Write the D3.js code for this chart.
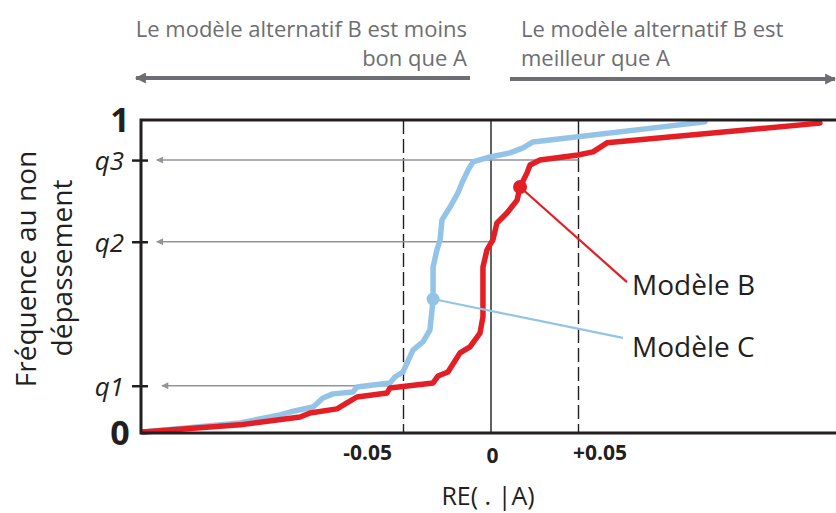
<!DOCTYPE html>
<html><head><meta charset="utf-8">
<script src="https://cdn.jsdelivr.net/npm/d3@7"></script>
<style>body{margin:0;background:#fff}svg{display:block}</style>
</head><body><svg id="c" width="836" height="513"></svg>
<script>
// ---- data ----
const seriesNames = ["Modèle B", "Modèle C"];
const modelBx = [-0.199,-0.1434,-0.1091,-0.1034,-0.0880,-0.0823,-0.0766,-0.0594,-0.0577,-0.0331,-0.0303,-0.0246,-0.0177,-0.0120,-0.0063,-0.0046,-0.0046,-0.0023,0.0011,0.0034,0.0091,0.0149,0.0166,0.0206,0.0223,0.0280,0.0497,0.0583,0.0663,0.1880];
const modelBy = [0.003,0.026,0.051,0.064,0.077,0.096,0.115,0.128,0.144,0.160,0.182,0.195,0.256,0.275,0.319,0.371,0.530,0.585,0.617,0.671,0.703,0.744,0.786,0.831,0.856,0.872,0.888,0.898,0.927,0.990];
const modelCx = [-0.199,-0.1434,-0.1206,-0.1149,-0.1017,-0.0960,-0.0903,-0.0789,-0.0766,-0.0577,-0.0549,-0.0503,-0.0446,-0.0389,-0.0349,-0.0331,-0.0331,-0.0309,-0.0291,-0.0280,-0.0234,-0.0189,-0.0166,-0.0131,-0.0103,-0.0006,0.0109,0.0183,0.0240,0.0337,0.1223];
const modelCy = [0.003,0.032,0.058,0.067,0.083,0.112,0.125,0.131,0.147,0.160,0.179,0.195,0.265,0.291,0.329,0.425,0.530,0.585,0.617,0.681,0.722,0.767,0.799,0.840,0.866,0.882,0.895,0.911,0.930,0.936,0.994];
const markerX = [0.0166, -0.0331];
const markerY = [0.786, 0.428];
const quantileValues = [0.151, 0.611, 0.872];
const quantileLabels = ["q1", "q2", "q3"];
const arrowStartValues = [-0.05, 0, 0.05];
const yEndValues = [0, 1];
const yEndLabels = ["0", "1"];
const xTickValues = [-0.05, 0, 0.05];
const xTickLabels = ["-0.05", "0", "+0.05"];

// ---- layout ----
const svg = d3.select("#c");
const x = d3.scaleLinear().domain([-0.2, 0.2]).range([141, 841]);
const y = d3.scaleLinear().domain([0, 1]).range([433, 120]);
const dark = "#231f20", red = "#e31e24", blue = "#93c4e8", gray = "#939598", topGray = "#6d6e71";
const font = "'Open Sans', sans-serif";

const defs = svg.append("defs");
defs.append("marker").attr("id","hgray").attr("viewBox","0 0 10 10").attr("refX",9).attr("refY",5)
  .attr("markerWidth",12).attr("markerHeight",7).attr("markerUnits","userSpaceOnUse").attr("orient","auto")
  .append("path").attr("d","M10,5 L0,0 L0,10 Z").attr("fill",gray);
defs.append("marker").attr("id","htop").attr("viewBox","0 0 10 10").attr("refX",9).attr("refY",5)
  .attr("markerWidth",14).attr("markerHeight",11).attr("markerUnits","userSpaceOnUse").attr("orient","auto")
  .append("path").attr("d","M10,5 L0,0 L0,10 Z").attr("fill",topGray);

// top annotations
const tTop = svg.append("g").attr("font-family", font).attr("font-size", 22).attr("fill", topGray);
tTop.append("text").attr("x",467).attr("y",37).attr("text-anchor","end").text("Le modèle alternatif B est moins");
tTop.append("text").attr("x",467).attr("y",66).attr("text-anchor","end").text("bon que A");
tTop.append("text").attr("x",521).attr("y",37).text("Le modèle alternatif B est");
tTop.append("text").attr("x",521).attr("y",66).text("meilleur que A");
svg.append("line").attr("x1",470).attr("x2",136).attr("y1",78).attr("y2",78)
  .attr("stroke",topGray).attr("stroke-width",4).attr("marker-end","url(#htop)");
svg.append("line").attr("x1",510).attr("x2",835).attr("y1",79).attr("y2",79)
  .attr("stroke",topGray).attr("stroke-width",4).attr("marker-end","url(#htop)");

// reference vertical lines
svg.append("g").selectAll("line").data(xTickValues).join("line")
  .attr("x1", d => x(d)).attr("x2", d => x(d)).attr("y1", y(1)).attr("y2", y(0))
  .attr("stroke", dark).attr("stroke-width", 1.4)
  .attr("stroke-dasharray", d => d === 0 ? null : "14,5");

// quantile arrows
svg.append("g").selectAll("line").data(quantileValues).join("line")
  .attr("x1", (d,i) => x(arrowStartValues[i])).attr("x2", (d,i) => x(i === 0 ? -0.188 : -0.191))
  .attr("y1", d => y(d)).attr("y2", d => y(d))
  .attr("stroke", gray).attr("stroke-width", 1.6).attr("marker-end","url(#hgray)");

// curves
const line = d3.line().x(d => x(d[0])).y(d => y(d[1]));
const dataC = modelCx.map((v,i) => [v, modelCy[i]]);
const dataB = modelBx.map((v,i) => [v, modelBy[i]]);
svg.append("path").datum(dataC).attr("d", line).attr("fill","none").attr("stroke",blue)
  .attr("stroke-width",5.5).attr("stroke-linejoin","round").attr("stroke-linecap","round");
svg.append("path").datum(dataB).attr("d", line).attr("fill","none").attr("stroke",red)
  .attr("stroke-width",5.5).attr("stroke-linejoin","round").attr("stroke-linecap","round");

// frame
const frame = svg.append("g").attr("stroke", dark).attr("stroke-width", 3).attr("fill","none");
frame.append("path").attr("d", `M836,${y(1)} H${x(-0.2)} V${y(0)} H836`);

// y axis (ticks + labels)
const yAxis = d3.axisLeft(y).tickValues(quantileValues).tickFormat((d,i) => quantileLabels[i]).tickSize(0).tickPadding(17);
const gy = svg.append("g").attr("transform", `translate(${x(-0.2)},0)`).call(yAxis);
gy.select(".domain").remove();
gy.selectAll(".tick line").attr("x1",-9).attr("x2",7).attr("stroke",dark).attr("stroke-width",2.5);
gy.selectAll(".tick text").attr("font-family",font).attr("font-style","italic").attr("font-size",26)
  .attr("fill",dark).attr("dy","0.36em");
svg.append("g").selectAll("text").data(yEndValues).join("text")
  .attr("x", 120).attr("y", d => y(d)).attr("dy","0.36em").attr("text-anchor","middle")
  .attr("font-family",font).attr("font-weight","bold").attr("font-size",34).attr("fill",dark)
  .text((d,i) => yEndLabels[i]);

// x axis labels
const xAxis = d3.axisBottom(x).tickValues(xTickValues).tickFormat((d,i) => xTickLabels[i]).tickSize(0);
const gx = svg.append("g").attr("transform", `translate(0,${y(0)})`).call(xAxis);
gx.select(".domain").remove();
gx.selectAll(".tick text").attr("font-family",font).attr("font-weight","bold").attr("font-size",21)
  .attr("fill",dark).attr("dy",null)
  .attr("y", d => d === 0 ? 30 : 27)
  .attr("text-anchor", d => d < 0 ? "end" : d > 0 ? "start" : "middle")
  .attr("x", d => d < 0 ? -12 : d > 0 ? -6 : 1);

// axis titles
svg.append("text").attr("x", 488).attr("y", 505).attr("text-anchor","middle")
  .attr("font-family",font).attr("font-size",25).attr("fill",dark).text("RE( . |A)");
const yt = svg.append("g").attr("font-family",font).attr("font-size",28).attr("fill",dark).attr("text-anchor","middle");
yt.append("text").attr("transform","translate(36,269) rotate(-90)").text("Fréquence au non");
yt.append("text").attr("transform","translate(72,268) rotate(-90)").text("dépassement");

// series annotations
const labelPos = [[0.0777, 0.482, 632, 295], [0.0754, 0.304, 632, 357]];
const colors = [red, blue];
seriesNames.forEach((name, i) => {
  svg.append("line").attr("x1", x(markerX[i])).attr("y1", y(markerY[i]))
    .attr("x2", x(labelPos[i][0])).attr("y2", y(labelPos[i][1]))
    .attr("stroke", colors[i]).attr("stroke-width", 2.2);
  svg.append("circle").attr("cx", x(markerX[i])).attr("cy", y(markerY[i]))
    .attr("r", i === 0 ? 7 : 6.5).attr("fill", colors[i]);
  svg.append("text").attr("x", labelPos[i][2]).attr("y", labelPos[i][3])
    .attr("font-family",font).attr("font-size",28).attr("fill",dark).text(name);
});
</script></body></html>
